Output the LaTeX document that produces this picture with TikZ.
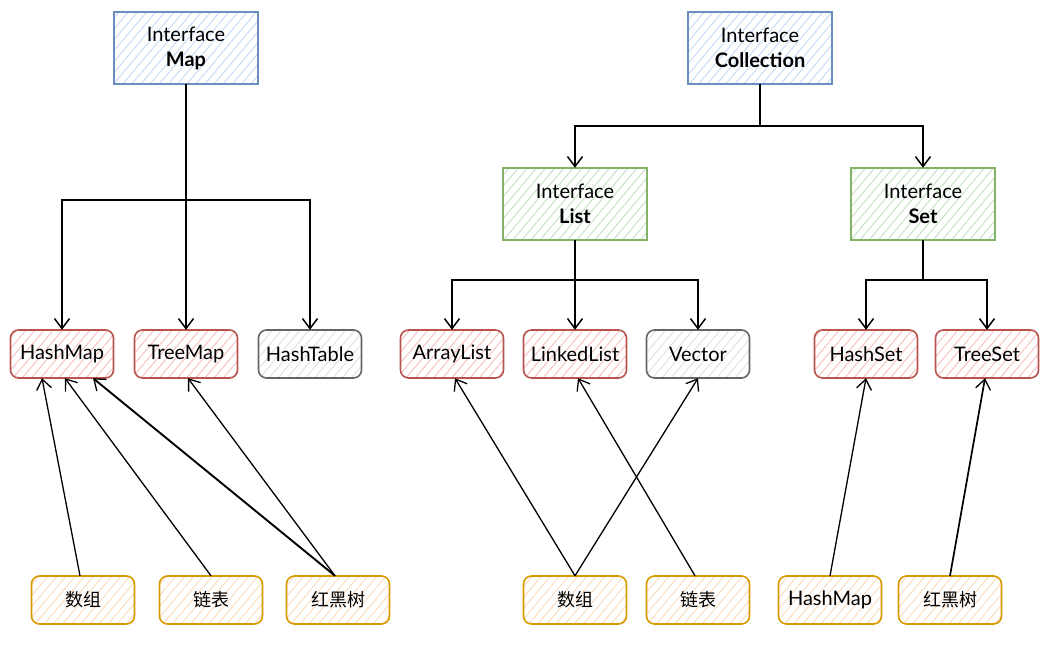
\documentclass[tikz,border=0pt]{standalone}
\usepackage{fontspec}
\setmainfont{Lato}
\newfontfamily\cjk{Noto Sans CJK SC}
\usetikzlibrary{arrows.meta,patterns.meta}

\definecolor{bstroke}{HTML}{6C8EBF}\definecolor{bhatch}{HTML}{C9DCF7}
\definecolor{gstroke}{HTML}{82B366}\definecolor{ghatch}{HTML}{C8E3C6}
\definecolor{rstroke}{HTML}{B85450}\definecolor{rhatch}{HTML}{F6C4C2}
\definecolor{kstroke}{HTML}{666666}\definecolor{khatch}{HTML}{E2E2E2}
\definecolor{ostroke}{HTML}{D79B00}\definecolor{ohatch}{HTML}{FBDDBF}

\tikzset{
  % white fill, light hatching, then the outline on top
  sketch/.style 2 args={fill=white,
    postaction={pattern={Lines[angle=50,distance=7pt,line width=1pt]},pattern color=#2},
    postaction={draw=#1,line width=1.6pt}},
  base/.style={font=\fontsize{20}{25}\selectfont,inner sep=0pt,align=center},
  iface/.style={base,minimum width=144pt,minimum height=72pt},
  impl/.style={base,minimum width=103pt,minimum height=48pt,rounded corners=8pt},
  bluebox/.style={iface,sketch={bstroke}{bhatch}},
  greenbox/.style={iface,sketch={gstroke}{ghatch}},
  redbox/.style={impl,sketch={rstroke}{rhatch}},
  graybox/.style={impl,sketch={kstroke}{khatch}},
  orangebox/.style={impl,sketch={ostroke}{ohatch}},
  zh/.style={font=\cjk\fontsize{18}{22}\selectfont},
  arr/.style={line width=1.5pt,-{Straight Barb[length=10pt,width=15pt,line width=1.5pt]}},
  link/.style={line width=1.3pt,-{Straight Barb[length=10pt,width=15pt,line width=1.3pt]}}
}

\begin{document}
\begin{tikzpicture}[x=1pt,y=-1pt]
\useasboundingbox (0,0) rectangle (1048,655);

% interfaces
\node[bluebox]  (map)  at (186,48)  {Interface\\\textbf{Map}};
\node[bluebox]  (coll) at (760,48)  {Interface\\\textbf{Collection}};
\node[greenbox] (list) at (575,204) {Interface\\\textbf{List}};
\node[greenbox] (set)  at (923,204) {Interface\\\textbf{Set}};

% implementations
\node[redbox]  (hashmap)   at (62,354)  {HashMap};
\node[redbox]  (treemap)   at (186,354) {TreeMap};
\node[graybox] (hashtable) at (310,354) {HashTable};
\node[redbox]  (arraylist) at (452,354) {ArrayList};
\node[redbox]  (linkedlist) at (575,354) {LinkedList};
\node[graybox] (vector)    at (698,354) {Vector};
\node[redbox]  (hashset)   at (866,354) {HashSet};
\node[redbox]  (treeset)   at (987,354) {TreeSet};

% underlying structures
\node[orangebox,zh] (arrA)  at (83,600)  {数组};
\node[orangebox,zh] (lnkA)  at (211,600) {链表};
\node[orangebox,zh] (rbtA)  at (338,600) {红黑树};
\node[orangebox,zh] (arrB)  at (575,600) {数组};
\node[orangebox,zh] (lnkB)  at (698,600) {链表};
\node[orangebox]    (hmB)   at (830,600) {HashMap};
\node[orangebox,zh] (rbtB)  at (950,600) {红黑树};

% branching points of the hierarchy
\coordinate (mbus) at (186,200);
\coordinate (cbus) at (760,126);
\coordinate (lbus) at (575,280);
\coordinate (sbus) at (923,280);

\draw[line width=2.6pt] (map.south) -- (mbus);
\draw[arr] (mbus) -| (hashmap.north);
\draw[arr] (mbus) -- (treemap.north);
\draw[arr] (mbus) -| (hashtable.north);

\draw[arr] (coll.south) -- (cbus) -| (list.north);
\draw[arr] (coll.south) -- (cbus) -| (set.north);

\draw[arr] (list.south) -- (lbus) -| (arraylist.north);
\draw[arr] (list.south) -- (lbus) -| (linkedlist.north);
\draw[arr] (list.south) -- (lbus) -| (vector.north);

\draw[arr] (set.south) -- (sbus) -| (hashset.north);
\draw[arr] (set.south) -- (sbus) -| (treeset.north);

% implementation backed by
\draw[link] ([xshift=-3pt]arrA.north) -- ([xshift=-20pt]hashmap.south);
\draw[link] (lnkA.north) -- ([xshift=3pt]hashmap.south);
\draw[link,line width=1.9pt] ([xshift=-3pt]rbtA.north) -- ([xshift=31pt]hashmap.south);
\draw[link] ([xshift=-3pt]rbtA.north) -- ([xshift=2pt]treemap.south);

\draw[link] (arrB.north) -- ([xshift=3pt]arraylist.south);
\draw[link] (arrB.north) -- (vector.south);
\draw[link] ([xshift=-3pt]lnkB.north) -- ([xshift=3pt]linkedlist.south);
\draw[link] (hmB.north) -- (hashset.south);
\draw[link,line width=1.7pt] (rbtB.north) -- ([xshift=-2pt]treeset.south);
\end{tikzpicture}
\end{document}
